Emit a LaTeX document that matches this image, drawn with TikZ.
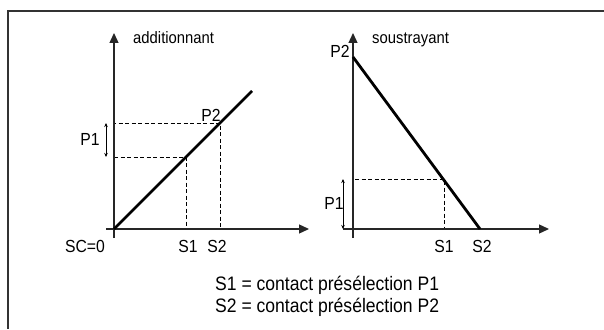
\documentclass[tikz,border=0pt]{standalone}
\usepackage{fontspec}
\setmainfont[FakeStretch=0.9]{Liberation Sans}
\usetikzlibrary{arrows.meta,positioning}

\begin{document}
\begin{tikzpicture}[x=1pt,y=-1pt,
    axis/.style={-{Triangle[length=10pt,width=9pt]},line width=1.3pt,draw=black!85},
    ramp/.style={line width=2.8pt},
    guide/.style={dash pattern=on 4pt off 2.5pt,line width=0.9pt},
    span/.style={{Stealth[length=4pt,width=3.5pt]}-{Stealth[length=4pt,width=3.5pt]},line width=0.6pt},
    lbl/.style={font=\fontsize{17.5}{19}\selectfont,inner sep=1pt},
    ttl/.style={font=\fontsize{16.5}{18}\selectfont,inner sep=0pt,anchor=base west},
    note/.style={font=\fontsize{19.5}{22}\selectfont,inner sep=0pt,anchor=base west}
  ]
  \useasboundingbox (0,0) rectangle (604,329);

  % frame
  \coordinate (tr) at (604,11.5);
  \coordinate (tl) at (7.5,11.5);
  \coordinate (bl) at (7.5,329);
  \draw[line width=2pt,black!80] (tr) -- (tl) -- (bl);

  % additionnant
  \coordinate (oA) at (114,229);
  \coordinate (yA0) at (114,238);
  \coordinate (yA) at (114,33);
  \coordinate (xA0) at (106,229);
  \coordinate (xA) at (309,229);
  \coordinate (endA) at (252,91);
  \coordinate (p2A) at (220,123);
  \coordinate (p1A) at (186,157);
  \coordinate (upA) at (106,123);
  \coordinate (loA) at (106,157);

  \draw[guide] (oA) rectangle (p2A);
  \draw[guide] (p1A -| oA) -- (p1A) -- (p1A |- oA);
  \draw[axis] (yA0) -- (yA);
  \draw[axis] (xA0) -- (xA);
  \draw[ramp] (oA) -- (endA);
  \draw[span] (upA) -- (loA);

  \node[ttl] (titleA) at (133,44) {additionnant};
  \node[lbl] (sc) at (85,246) {SC=0};
  \node[lbl] (s1A) at (188,246) {S1};
  \node[lbl] (s2A) at (217,246) {S2};
  \node[lbl] (lp2A) at (211,115) {P2};
  \node[lbl] (lp1A) at (90,139) {P1};

  % soustrayant
  \coordinate (oB) at (353,229);
  \coordinate (yB0) at (353,238);
  \coordinate (yB) at (353,33);
  \coordinate (xB0) at (343,229);
  \coordinate (xB) at (549,229);
  \coordinate (topB) at (353,57);
  \coordinate (endB) at (480,229);
  \coordinate (p1B) at (444,179);
  \coordinate (upB) at (343,179);
  \coordinate (loB) at (343,229);

  \draw[guide] (oB) rectangle (p1B);
  \draw[axis] (yB0) -- (yB);
  \draw[axis] (xB0) -- (xB);
  \draw[ramp] (topB) -- (endB);
  \draw[span] (upB) -- (loB);

  \node[ttl] (titleB) at (372,44) {soustrayant};
  \node[lbl] (lp2B) at (340,51) {P2};
  \node[lbl] (lp1B) at (334,203) {P1};
  \node[lbl] (s1B) at (444,246) {S1};
  \node[lbl] (s2B) at (482,246) {S2};

  % legende
  \node[note] (n1) at (215,290) {S1 = contact présélection P1};
  \node[note] (n2) at (215,312) {S2 = contact présélection P2};
\end{tikzpicture}
\end{document}
